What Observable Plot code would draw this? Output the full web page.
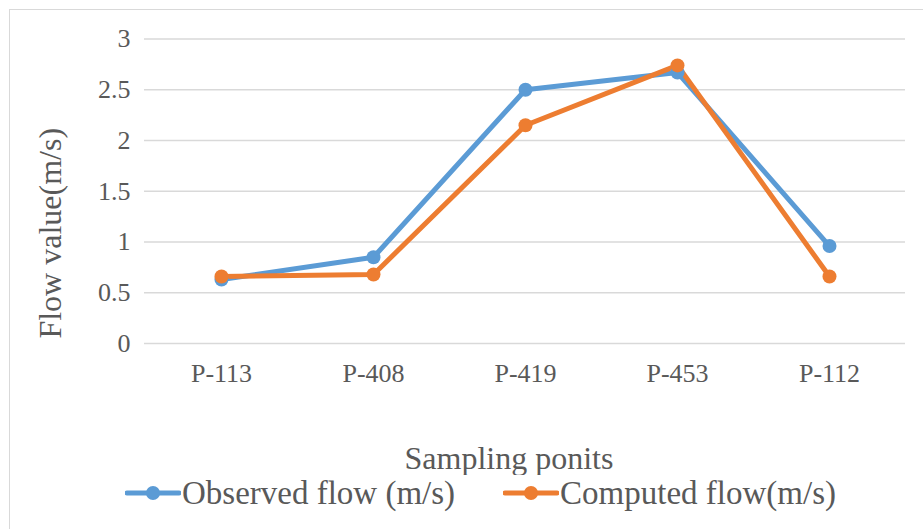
<!DOCTYPE html>
<html>
<head>
<meta charset="utf-8">
<script src="https://cdn.jsdelivr.net/npm/d3@7"></script>
<script src="https://cdn.jsdelivr.net/npm/@observablehq/plot@0.6"></script>
<style>
  html, body { margin: 0; padding: 0; background: #fff; }
  #wrap { position: relative; width: 923px; height: 529px; overflow: hidden; font-family: "Liberation Serif", "Times New Roman", serif; }
  #frame { position: absolute; left: 9px; top: 9px; right: -10px; bottom: -10px; border-left: 1.5px solid #d9d9d9; border-top: 1.5px solid #d9d9d9; pointer-events: none; }
  #chart svg { display: block; }
  #legend { position: relative; height: 36px; display: flex; justify-content: flex-start; align-items: center; padding-left: 125px; font-size: 33px; color: #595959; white-space: nowrap; }
  .item { display: flex; align-items: center; }
  .item svg { margin-right: 1px; }
  .item + .item { margin-left: 48px; }
</style>
</head>
<body>
<div id="wrap">
  <div id="chart"></div>
  <div id="legend"></div>
  <div id="frame"></div>
</div>
<script>
const categories = ["P-113", "P-408", "P-419", "P-453", "P-112"];
const seriesNames = ["Observed flow (m/s)", "Computed flow(m/s)"];
const observed = [0.63, 0.85, 2.50, 2.67, 0.96];
const computed = [0.66, 0.68, 2.15, 2.74, 0.66];
const yTicks = [0, 0.5, 1, 1.5, 2, 2.5, 3];
const yTickLabels = ["0", "0.5", "1", "1.5", "2", "2.5", "3"];
const colors = ["#5B9BD5", "#ED7D31"];
const xTitle = "Sampling ponits";
const yTitle = "Flow value(m/s)";

const data = [];
categories.forEach((c, i) => data.push({point: c, value: observed[i], series: seriesNames[0]}));
categories.forEach((c, i) => data.push({point: c, value: computed[i], series: seriesNames[1]}));

const chart = Plot.plot({
  width: 923,
  height: 475,
  marginTop: 38.5,
  marginBottom: 132,
  marginLeft: 144,
  marginRight: 18,
  style: {fontFamily: '"Liberation Serif", "Times New Roman", serif', background: "transparent", color: "#595959"},
  x: {type: "point", domain: categories, padding: 0.5},
  y: {domain: [0, 3]},
  color: {domain: seriesNames, range: colors},
  marks: [
    Plot.gridY(yTicks, {stroke: "#d9d9d9", strokeOpacity: 1, strokeWidth: 1.5}),
    Plot.axisY({ticks: yTicks, tickFormat: (d) => yTickLabels[yTicks.indexOf(d)], tickSize: 0, tickPadding: 14, fontSize: 26, fill: "#595959", label: null}),
    Plot.axisX({tickSize: 0, tickPadding: 20, fontSize: 26, fill: "#595959", label: null}),
    Plot.text([yTitle], {text: (d) => d, frameAnchor: "left", textAnchor: "middle", rotate: -90, dx: -94, dy: 42, fontSize: 32, fill: "#595959"}),
    Plot.text([xTitle], {text: (d) => d, frameAnchor: "bottom", dx: -16, dy: 125, fontSize: 32, fill: "#595959"}),
    Plot.line(data, {x: "point", y: "value", stroke: "series", z: "series", strokeWidth: 5, strokeLinejoin: "round"}),
    Plot.dot(data, {x: "point", y: "value", fill: "series", r: 7, stroke: "none"})
  ]
});
document.getElementById("chart").appendChild(chart);

const legend = document.getElementById("legend");
seriesNames.forEach((name, i) => {
  const item = document.createElement("div");
  item.className = "item";
  item.innerHTML = `<svg width="56" height="16"><line x1="2" x2="54" y1="8" y2="8" stroke="${colors[i]}" stroke-width="5" stroke-linecap="round"/><circle cx="28" cy="8" r="7" fill="${colors[i]}"/></svg><span>${name}</span>`;
  legend.appendChild(item);
});
</script>
</body>
</html>
